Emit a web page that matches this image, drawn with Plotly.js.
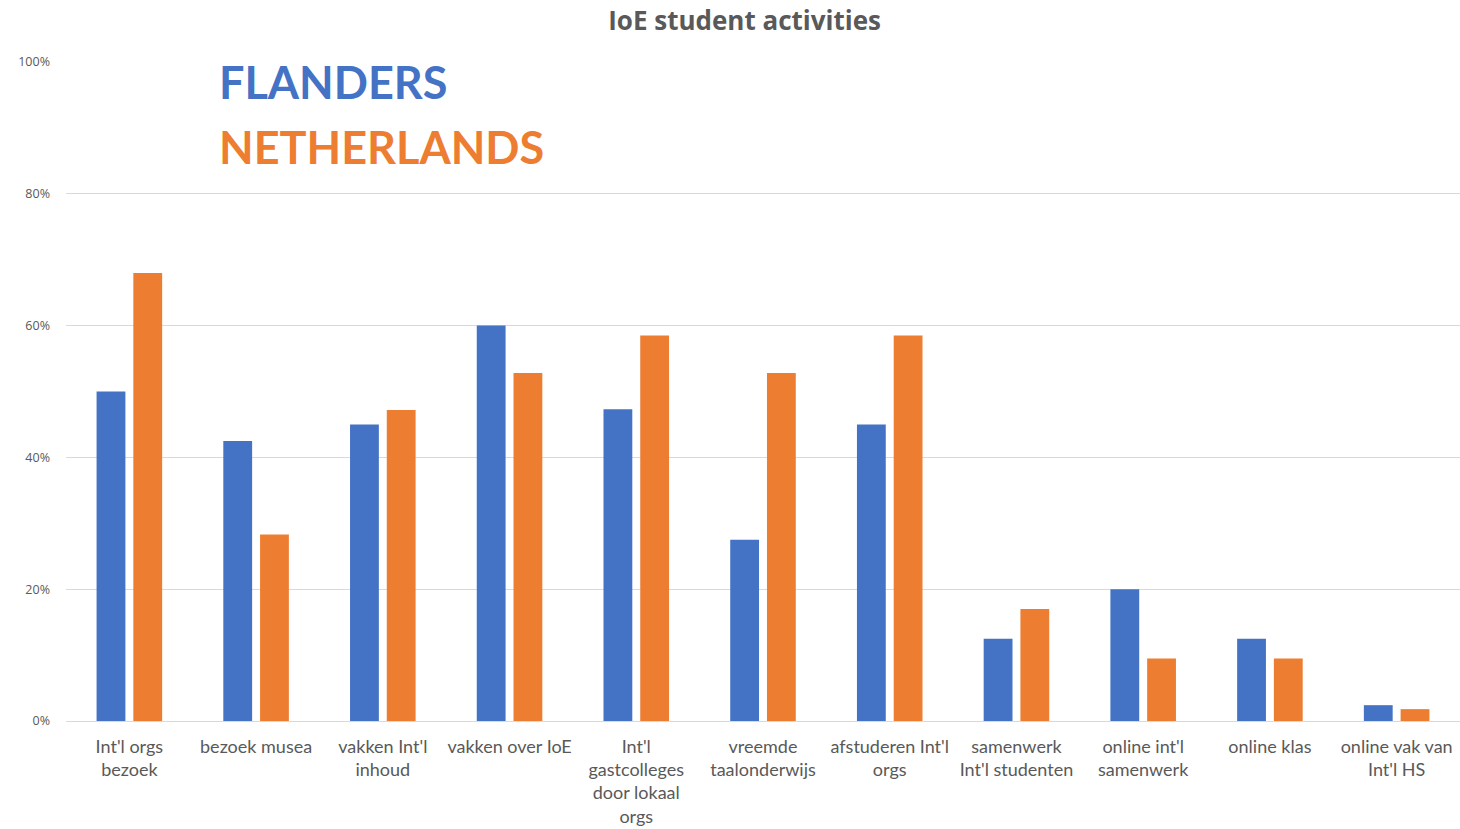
<!DOCTYPE html>
<html>
<head>
<meta charset="utf-8">
<script src="https://cdn.plot.ly/plotly-3.0.1.min.js"></script>
<style>html,body{margin:0;padding:0;background:#fff;}#chart{width:1460px;height:829px;}</style>
</head>
<body>
<div id="chart"></div>
<script>
const categories = [
  "Int'l orgs<br>bezoek",
  "bezoek musea",
  "vakken Int'l<br>inhoud",
  "vakken over IoE",
  "Int'l<br>gastcolleges<br>door lokaal<br>orgs",
  "vreemde<br>taalonderwijs",
  "afstuderen Int'l<br>orgs",
  "samenwerk<br>Int'l studenten",
  "online int'l<br>samenwerk",
  "online klas",
  "online vak van<br>Int'l HS"
];
const flanders = [0.50, 0.425, 0.45, 0.60, 0.473, 0.275, 0.45, 0.125, 0.20, 0.125, 0.024];
const netherlands = [0.68, 0.283, 0.472, 0.528, 0.585, 0.528, 0.585, 0.17, 0.095, 0.095, 0.018];
const seriesNames = ["FLANDERS", "NETHERLANDS"];
const yTicks = [0, 0.2, 0.4, 0.6, 0.8, 1.0];
const chartTitle = "IoE student activities";

const blue = "#4472C4", orange = "#ED7D31", grey = "#595959";

const traces = [
  {type: "bar", name: seriesNames[0], x: categories, y: flanders, marker: {color: blue}, hoverinfo: "x+y"},
  {type: "bar", name: seriesNames[1], x: categories, y: netherlands, marker: {color: orange}, hoverinfo: "x+y"}
];

const layout = {
  width: 1460, height: 829,
  margin: {l: 66, r: 0, t: 62, b: 108},
  paper_bgcolor: "#fff", plot_bgcolor: "#fff",
  showlegend: false,
  barmode: "group",
  bargap: 0.42,
  bargroupgap: 0.216,
  title: {text: chartTitle, x: 0.51, xanchor: "center", y: 0.975, yanchor: "middle",
          font: {family: "Open Sans", size: 26, color: grey, weight: 700}},
  font: {family: "Lato", color: grey},
  xaxis: {
    type: "category", showgrid: false, showline: true, linecolor: "#D9D9D9", linewidth: 1,
    ticks: "", ticklabelstandoff: 9, tickfont: {family: "Lato", size: 18, color: grey}, automargin: false
  },
  yaxis: {
    range: [0, 1], tickvals: yTicks, tickformat: ".0%", showgrid: true, gridcolor: "#D9D9D9",
    gridwidth: 1, zeroline: false, showline: false, ticks: "", ticklabelstandoff: 15,
    tickfont: {family: "Open Sans", size: 12.5, color: grey}, automargin: false, fixedrange: true
  },
  annotations: [
    {text: "<b>" + seriesNames[0] + "</b>", xref: "paper", yref: "paper", x: 0.108, y: 0.97,
     xanchor: "left", yanchor: "middle", showarrow: false,
     font: {family: "Lato", size: 45, color: blue}},
    {text: "<b>" + seriesNames[1] + "</b>", xref: "paper", yref: "paper", x: 0.108, y: 0.871,
     xanchor: "left", yanchor: "middle", showarrow: false,
     font: {family: "Lato", size: 45, color: orange}}
  ]
};

Plotly.newPlot("chart", traces, layout, {displayModeBar: false, staticPlot: true});
</script>
</body>
</html>
